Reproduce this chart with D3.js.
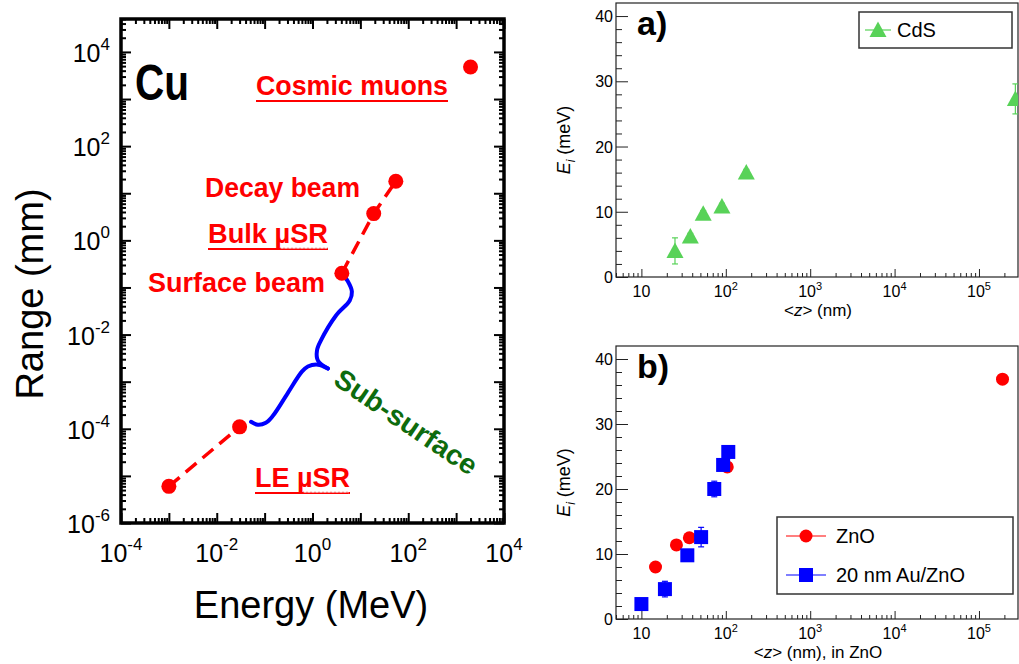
<!DOCTYPE html>
<html>
<head>
<meta charset="utf-8">
<script src="https://cdn.jsdelivr.net/npm/d3@7"></script>
<style>
body { margin: 0; background: #fff; }
svg { display: block; font-family: "Liberation Sans", Arial, sans-serif; }
</style>
</head>
<body>
<svg id="fig" width="1019" height="664"></svg>
<script>
////////////////////////////////////////////////
//////////////// DATA //////////////////////////
////////////////////////////////////////////////

// Left panel: muon range in Cu (energy in MeV, range in mm)
var lowEnergy = [1e-3, 3e-2];
var lowRange = [6e-6, 1.1e-4];
var beamEnergy = [4.1, 19, 55];
var beamRange = [0.2, 3.7, 18];
var cosmicEnergy = [2000];
var cosmicRange = [4800];

// curly brace marking the sub-surface region (two arms meeting at the tip)
var braceUpperE = [4.1, 5.5, 6.65, 6.0, 3.1, 1.5, 1.24, 1.3, 2.1];
var braceUpperR = [0.199, 0.134, 0.082, 0.053, 0.0254, 0.0075, 0.0046, 0.0028, 0.0019];
var braceLowerE = [2.1, 1.3, 0.8, 0.6, 0.3, 0.149, 0.106, 0.072, 0.052];
var braceLowerR = [0.0019, 0.0023, 0.0021, 0.00163, 5.6e-4, 1.89e-4, 1.34e-4, 1.22e-4, 1.41e-4];

// Panel a: CdS
var cdsDepth = [25, 38, 54, 90, 175, 2.7e5];
var cdsEi = [4.0, 6.2, 9.7, 10.8, 16.0, 27.3];
var cdsErr = [2.0, 0.5, 0.5, 0.5, 0.5, 2.3];

// Panel b: ZnO and 20 nm Au/ZnO
var znoDepth = [14.7, 26, 37, 104, 1.9e5];
var znoEi = [8.0, 11.4, 12.5, 23.4, 36.9];
var znoErr = [0.4, 0.4, 0.4, 0.4, 0.4];
var auDepth = [10, 19, 35, 51, 73, 93, 107];
var auEi = [2.3, 4.6, 9.8, 12.6, 20.0, 23.7, 25.7];
var auErr = [0.5, 1.2, 0.5, 1.5, 1.2, 0.8, 0.8];

var cuXLabels = [-4, -2, 0, 2, 4];
var cuYLabels = [-6, -4, -2, 0, 2, 4];
var depthLabels = [1, 2, 3, 4, 5];
var eiTicks = [0, 10, 20, 30, 40];

////////////////////////////////////////////////
//////////////// HELPERS ///////////////////////
////////////////////////////////////////////////

var svg = d3.select("#fig");

function zip(a, b) { return a.map(function (v, i) { return [v, b[i]]; }); }

// decade ticks and 2..9 minor ticks inside [lo, hi]
function logMajors(lo, hi) {
    var out = [];
    for (var e = Math.ceil(Math.log10(lo) - 1e-9); Math.pow(10, e) <= hi * 1.0001; e++) out.push(Math.pow(10, e));
    return out;
}
function logMinors(lo, hi) {
    var out = [];
    for (var e = Math.floor(Math.log10(lo)); Math.pow(10, e) <= hi; e++) {
        for (var m = 2; m < 10; m++) {
            var v = m * Math.pow(10, e);
            if (v >= lo && v <= hi) out.push(v);
        }
    }
    return out;
}

// "10" with a raised exponent
function powerLabel(g, x, y, exp, size, supSize, raise, anchor) {
    var t = g.append("text")
        .attr("x", x).attr("y", y)
        .attr("text-anchor", anchor)
        .style("font-size", size + "px")
        .style("fill", "#000");
    t.append("tspan").text("10");
    if (exp !== null) {
        t.append("tspan").attr("dy", -raise).style("font-size", supSize + "px").text(exp);
    }
    return t;
}

////////////////////////////////////////////////
//////////////// LEFT PANEL: Cu ////////////////
////////////////////////////////////////////////

var cuBox = { left: 121, right: 504, top: 19, bottom: 523 };
var xCu = d3.scaleLog().domain([1e-4, 1e4]).range([cuBox.left, cuBox.right]);
var yCu = d3.scaleLog().domain([1e-6, 5e4]).range([cuBox.bottom, cuBox.top]);

var cu = svg.append("g");

var cuXMaj = logMajors(1e-4, 1e4), cuXMin = logMinors(1e-4, 1e4);
var cuYMaj = logMajors(1e-6, 5e4), cuYMin = logMinors(1e-6, 5e4);

function tickAxis(axisFn, scale, values, size, transform) {
    var a = cu.append("g")
        .attr("transform", transform)
        .call(axisFn(scale).tickValues(values).tickSize(-size).tickFormat(""));
    a.select(".domain").remove();
    a.selectAll("line").attr("stroke", "#000").attr("stroke-width", 2);
}
tickAxis(d3.axisBottom, xCu, cuXMaj, 10, "translate(0," + cuBox.bottom + ")");
tickAxis(d3.axisBottom, xCu, cuXMin, 5, "translate(0," + cuBox.bottom + ")");
tickAxis(d3.axisTop, xCu, cuXMaj, 10, "translate(0," + cuBox.top + ")");
tickAxis(d3.axisTop, xCu, cuXMin, 5, "translate(0," + cuBox.top + ")");
tickAxis(d3.axisLeft, yCu, cuYMaj, 10, "translate(" + cuBox.left + ",0)");
tickAxis(d3.axisLeft, yCu, cuYMin, 5, "translate(" + cuBox.left + ",0)");
tickAxis(d3.axisRight, yCu, cuYMaj, 10, "translate(" + cuBox.right + ",0)");
tickAxis(d3.axisRight, yCu, cuYMin, 5, "translate(" + cuBox.right + ",0)");

cu.append("rect")
    .attr("x", cuBox.left).attr("y", cuBox.top)
    .attr("width", cuBox.right - cuBox.left).attr("height", cuBox.bottom - cuBox.top)
    .attr("fill", "none").attr("stroke", "#000").attr("stroke-width", 3.5);

cuXLabels.forEach(function (e) {
    powerLabel(cu, xCu(Math.pow(10, e)), 562, String(e), 25, 17, 12, "middle");
});
cuYLabels.forEach(function (e) {
    powerLabel(cu, 110, yCu(Math.pow(10, e)) + 10, String(e), 25, 17, 12, "end");
});

cu.append("text")
    .attr("transform", "translate(43," + 294 + ") rotate(-90)")
    .attr("text-anchor", "middle")
    .style("font-size", "38px")
    .text("Range (mm)");
cu.append("text")
    .attr("x", 311).attr("y", 618)
    .attr("text-anchor", "middle")
    .style("font-size", "38px")
    .text("Energy (MeV)");

cu.append("text")
    .attr("x", 135).attr("y", 100)
    .attr("textLength", 54).attr("lengthAdjust", "spacingAndGlyphs")
    .style("font-size", "50px").style("font-weight", "bold")
    .text("Cu");

// range curves
var cuLine = d3.line().x(function (d) { return xCu(d[0]); }).y(function (d) { return yCu(d[1]); });
var braceLine = d3.line().curve(d3.curveCatmullRom.alpha(0.5))
    .x(function (d) { return xCu(d[0]); }).y(function (d) { return yCu(d[1]); });

[zip(braceUpperE, braceUpperR), zip(braceLowerE, braceLowerR)].forEach(function (arm) {
    cu.append("path")
        .attr("d", braceLine(arm))
        .attr("fill", "none").attr("stroke", "#0000ff")
        .attr("stroke-width", 4).attr("stroke-linecap", "round").attr("stroke-linejoin", "round");
});

[zip(lowEnergy, lowRange), zip(beamEnergy, beamRange)].forEach(function (seg) {
    cu.append("path")
        .attr("d", cuLine(seg))
        .attr("fill", "none").attr("stroke", "#ff0000")
        .attr("stroke-width", 3.5).attr("stroke-dasharray", "14,8");
});

var cuPoints = zip(lowEnergy, lowRange).concat(zip(beamEnergy, beamRange), zip(cosmicEnergy, cosmicRange));
cu.selectAll(".cuPoint")
    .data(cuPoints)
    .enter().append("circle")
    .attr("class", "cuPoint")
    .attr("cx", function (d) { return xCu(d[0]); })
    .attr("cy", function (d) { return yCu(d[1]); })
    .attr("r", 7.5)
    .attr("fill", "#ff0000");

// red annotations
function redLabel(txt, x, y, len, underline, waveFrom) {
    cu.append("text")
        .attr("x", x).attr("y", y)
        .attr("textLength", len).attr("lengthAdjust", "spacingAndGlyphs")
        .style("font-size", "28px").style("font-weight", "bold")
        .style("fill", "#ff0000")
        .text(txt);
    if (underline) {
        cu.append("line")
            .attr("x1", x).attr("x2", x + len)
            .attr("y1", y + 6).attr("y2", y + 6)
            .attr("stroke", "#ff0000").attr("stroke-width", 2);
    }
    if (waveFrom) {
        var pts = [];
        for (var px = waveFrom; px <= x + len; px += 2) pts.push([px, y + 5 + ((px - waveFrom) / 2 % 2 ? 1.2 : -0.6)]);
        cu.append("path")
            .attr("d", d3.line().curve(d3.curveBasis)(pts))
            .attr("fill", "none").attr("stroke", "#f3a0a0").attr("stroke-width", 1);
    }
}
redLabel("Cosmic muons", 256, 95, 192, true, null);
redLabel("Decay beam", 205, 197, 155, false, null);
redLabel("Bulk \u00b5SR", 208, 243, 120, true, 280);
redLabel("Surface beam", 148, 292, 177, false, null);
redLabel("LE \u00b5SR", 255, 487, 95, true, 303);

cu.append("text")
    .attr("transform", "translate(406,422) rotate(34)")
    .attr("text-anchor", "middle")
    .attr("dominant-baseline", "central")
    .attr("textLength", 166).attr("lengthAdjust", "spacingAndGlyphs")
    .style("font-size", "28px").style("font-weight", "bold")
    .style("fill", "#0d6b0d")
    .text("Sub-surface");

////////////////////////////////////////////////
//////////////// RIGHT PANELS //////////////////
////////////////////////////////////////////////

var xDepth = d3.scaleLog().domain([5, 2.9e5]);

function drawPanel(box, tag, xTitle, series, legend) {
    var g = svg.append("g");
    var x = xDepth.copy().range([box.left, box.right]);
    var y = d3.scaleLinear().domain([0, 42]).range([box.bottom, box.top]);

    var clipId = "clip" + tag.charAt(0);
    g.append("clipPath").attr("id", clipId)
        .append("rect")
        .attr("x", box.left).attr("y", box.top)
        .attr("width", box.right - box.left).attr("height", box.bottom - box.top);

    function axisTicks(axisFn, scale, values, size, transform) {
        var a = g.append("g").attr("transform", transform)
            .call(axisFn(scale).tickValues(values).tickSize(-size).tickFormat(""));
        a.select(".domain").remove();
        a.selectAll("line").attr("stroke", "#222").attr("stroke-width", 1);
    }
    axisTicks(d3.axisBottom, x, logMajors(5, 2.9e5), 8, "translate(0," + box.bottom + ")");
    axisTicks(d3.axisBottom, x, logMinors(5, 2.9e5), 4, "translate(0," + box.bottom + ")");
    axisTicks(d3.axisLeft, y, eiTicks, 12, "translate(" + box.left + ",0)");
    axisTicks(d3.axisLeft, y, d3.range(0, 42, 2).filter(function (v) { return v % 10; }), 6, "translate(" + box.left + ",0)");

    g.append("rect")
        .attr("x", box.left).attr("y", box.top)
        .attr("width", box.right - box.left).attr("height", box.bottom - box.top)
        .attr("fill", "none").attr("stroke", "#222").attr("stroke-width", 1.2);

    eiTicks.forEach(function (v) {
        g.append("text")
            .attr("x", box.left - 3).attr("y", y(v) + 6)
            .attr("text-anchor", "end")
            .style("font-size", "16px")
            .text(v);
    });
    depthLabels.forEach(function (e) {
        powerLabel(g, x(Math.pow(10, e)), box.bottom + 20, e === 1 ? null : String(e), 16, 11, 7, "middle");
    });

    var yl = g.append("text")
        .attr("transform", "translate(570," + ((box.top + box.bottom) / 2) + ") rotate(-90)")
        .attr("text-anchor", "middle")
        .style("font-size", "18px");
    yl.append("tspan").style("font-style", "italic").text("E");
    yl.append("tspan").attr("dy", 5).style("font-size", "12px").style("font-style", "italic").text("i");
    yl.append("tspan").attr("dy", -5).text(" (meV)");

    var xl = g.append("text")
        .attr("x", 818).attr("y", box.bottom + 39)
        .attr("text-anchor", "middle")
        .style("font-size", "17px");
    xl.append("tspan").text("<");
    xl.append("tspan").style("font-style", "italic").text("z");
    xl.append("tspan").text("> " + xTitle);

    g.append("text")
        .attr("x", 637).attr("y", box.top + 32)
        .style("font-size", "34px").style("font-weight", "bold")
        .text(tag);

    var data = g.append("g").attr("clip-path", "url(#" + clipId + ")");
    series.forEach(function (s) {
        var pts = s.depth.map(function (d, i) { return { z: d, e: s.ei[i], err: s.err[i] }; });
        var bars = data.append("g");
        pts.forEach(function (p) {
            var cx = x(p.z);
            bars.append("line").attr("x1", cx).attr("x2", cx)
                .attr("y1", y(p.e - p.err)).attr("y2", y(p.e + p.err))
                .attr("stroke", s.color).attr("stroke-width", 1.2);
            [p.e - p.err, p.e + p.err].forEach(function (v) {
                bars.append("line").attr("x1", cx - 3).attr("x2", cx + 3)
                    .attr("y1", y(v)).attr("y2", y(v))
                    .attr("stroke", s.color).attr("stroke-width", 1.2);
            });
        });
        pts.forEach(function (p) {
            marker(data, s.shape, x(p.z), y(p.e), s.color);
        });
    });

    var lg = g.append("g");
    lg.append("rect")
        .attr("x", legend.x).attr("y", legend.y)
        .attr("width", legend.w).attr("height", legend.h)
        .attr("fill", "#fff").attr("stroke", "#333").attr("stroke-width", 1.5);
    series.forEach(function (s, i) {
        var ly = legend.y + legend.first + i * legend.step;
        lg.append("line")
            .attr("x1", legend.x + legend.lx0).attr("x2", legend.x + legend.lx1)
            .attr("y1", ly).attr("y2", ly)
            .attr("stroke", s.color).attr("stroke-width", 1.2);
        marker(lg, s.shape, legend.x + (legend.lx0 + legend.lx1) / 2, ly, s.color);
        lg.append("text")
            .attr("x", legend.x + legend.tx).attr("y", ly + 7)
            .style("font-size", "20px")
            .text(s.name);
    });
}

function marker(g, shape, cx, cy, color) {
    if (shape === "circle") {
        g.append("circle").attr("cx", cx).attr("cy", cy).attr("r", 6.5).attr("fill", color);
    } else if (shape === "square") {
        g.append("rect").attr("x", cx - 7).attr("y", cy - 7).attr("width", 14).attr("height", 14).attr("fill", color);
    } else {
        g.append("path")
            .attr("d", "M" + cx + "," + (cy - 8.5) + "L" + (cx + 8.5) + "," + (cy + 7) + "L" + (cx - 8.5) + "," + (cy + 7) + "Z")
            .attr("fill", color);
    }
}

drawPanel({ left: 616, right: 1018, top: 3, bottom: 277 }, "a)", "(nm)",
    [{ name: "CdS", depth: cdsDepth, ei: cdsEi, err: cdsErr, color: "#58d258", shape: "triangle" }],
    { x: 859, y: 12, w: 153, h: 36, first: 18, step: 0, lx0: 6, lx1: 32, tx: 38 });

drawPanel({ left: 616, right: 1018, top: 346, bottom: 619 }, "b)", "(nm), in ZnO",
    [{ name: "ZnO", depth: znoDepth, ei: znoEi, err: znoErr, color: "#ff0000", shape: "circle" },
     { name: "20 nm Au/ZnO", depth: auDepth, ei: auEi, err: auErr, color: "#0000ff", shape: "square" }],
    { x: 777, y: 517, w: 236, h: 77, first: 19, step: 39, lx0: 9, lx1: 49, tx: 59 });
</script>
</body>
</html>
